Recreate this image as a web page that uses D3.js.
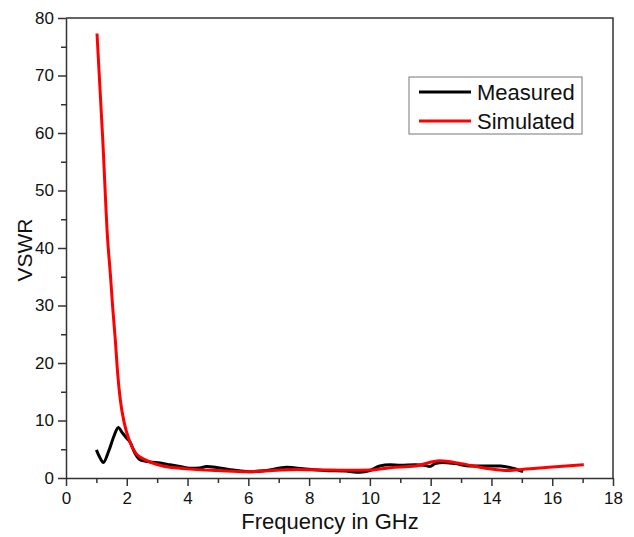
<!DOCTYPE html>
<html>
<head>
<meta charset="utf-8">
<script src="https://cdn.jsdelivr.net/npm/d3@7"></script>
<style>
  body { margin: 0; background: #fff; }
  text { font-family: "Liberation Sans", Arial, sans-serif; fill: #111; }
</style>
</head>
<body>
<div id="chart"></div>
<script>
// measured VSWR (frequency in GHz)
const measFreq = [1.0, 1.12, 1.23, 1.4, 1.58, 1.72, 1.85, 2.0, 2.1, 2.27, 2.43, 2.6, 2.76, 3.1, 3.42, 3.75, 4.08, 4.4, 4.63, 5.0, 5.5, 6.0, 6.6, 7.26, 7.8, 8.5, 9.2, 9.67, 10.0, 10.33, 10.66, 11.0, 11.5, 11.8, 11.97, 12.15, 12.4, 12.8, 13.3, 13.95, 14.3, 14.7, 15.04];
const measVswr = [4.9, 3.5, 2.7, 4.6, 7.3, 8.8, 7.9, 6.9, 6.3, 4.3, 3.2, 2.95, 2.8, 2.6, 2.3, 2.0, 1.7, 1.75, 2.0, 1.8, 1.4, 1.1, 1.3, 1.85, 1.6, 1.3, 1.2, 1.0, 1.3, 2.1, 2.3, 2.2, 2.3, 2.2, 2.0, 2.5, 2.7, 2.5, 2.1, 2.1, 2.1, 1.7, 1.1];

// simulated VSWR
const simFreq = [1.02, 1.21, 1.371, 1.458, 1.535, 1.623, 1.70, 1.787, 1.92, 2.08, 2.30, 2.63, 3.18, 3.75, 4.2, 5.0, 5.94, 6.8, 7.6, 8.5, 9.3, 10.0, 10.66, 11.5, 12.3, 13.0, 13.8, 14.6, 15.0, 16.0, 17.04];
const simVswr = [77.3, 58.8, 41.4, 35.6, 29.8, 24.0, 18.2, 13.6, 9.5, 6.6, 4.3, 3.1, 2.1, 1.7, 1.5, 1.3, 1.1, 1.3, 1.5, 1.4, 1.35, 1.4, 1.8, 2.1, 3.0, 2.5, 1.7, 1.3, 1.5, 1.9, 2.3];

const xTicks = [0, 2, 4, 6, 8, 10, 12, 14, 16, 18];
const yTicks = [0, 10, 20, 30, 40, 50, 60, 70, 80];

const seriesNames = ["Measured", "Simulated"];
const seriesColors = ["#000000", "#ff0000"];

let margin = {top: 18, right: 21, bottom: 59, left: 66},
    width = 634 - margin.left - margin.right,
    height = 537 - margin.top - margin.bottom;

let svg = d3.select("#chart")
  .append("svg")
    .attr("width", 634)
    .attr("height", 537)
  .append("g")
    .attr("transform", "translate(" + margin.left + "," + margin.top + ")");

let x = d3.scaleLinear().domain([0, 18]).range([0, width]);
let y = d3.scaleLinear().domain([0, 80]).range([height, 0]);

// frame (top and right lines, no ticks)
svg.append("path")
  .attr("d", "M0,0H" + width + "V" + height)
  .attr("fill", "none")
  .attr("stroke", "#333")
  .attr("stroke-width", 1.5);

// minor ticks
svg.append("g")
  .attr("transform", "translate(0," + height + ")")
  .call(d3.axisBottom(x).tickValues(d3.range(1, 18, 2)).tickSize(5).tickFormat(""))
  .call(g => g.select(".domain").remove())
  .selectAll("line").attr("stroke", "#333").attr("stroke-width", 1.5);
svg.append("g")
  .call(d3.axisLeft(y).tickValues(d3.range(5, 80, 10)).tickSize(5).tickFormat(""))
  .call(g => g.select(".domain").remove())
  .selectAll("line").attr("stroke", "#333").attr("stroke-width", 1.5);

// major axes
let xAxis = svg.append("g")
  .attr("transform", "translate(0," + height + ")")
  .call(d3.axisBottom(x).tickValues(xTicks).tickSize(8).tickSizeOuter(0).tickPadding(6));
let yAxis = svg.append("g")
  .call(d3.axisLeft(y).tickValues(yTicks).tickSize(8).tickSizeOuter(0).tickPadding(4));
[xAxis, yAxis].forEach(a => {
  a.select(".domain").attr("stroke", "#333").attr("stroke-width", 1.5);
  a.selectAll("line").attr("stroke", "#333").attr("stroke-width", 1.5);
  a.selectAll("text").style("font-size", "17px").style("font-family", "Liberation Sans, Arial, sans-serif").attr("fill", "#111");
});

// axis titles
svg.append("text")
  .attr("x", (240 + 420) / 2 - margin.left)
  .attr("y", height + 51)
  .attr("text-anchor", "middle")
  .style("font-size", "22px")
  .text("Frequency in GHz");
svg.append("text")
  .attr("transform", "translate(" + (-34) + "," + (y(40) + 2) + ") rotate(-90)")
  .attr("text-anchor", "middle")
  .style("font-size", "21px")
  .text("VSWR");

// lines
let line = d3.line()
  .x(d => x(d[0]))
  .y(d => y(d[1]))
  .curve(d3.curveMonotoneX);

let meas = measFreq.map((f, i) => [f, measVswr[i]]);
let sim = simFreq.map((f, i) => [f, simVswr[i]]);

svg.append("path")
  .datum(meas)
  .attr("d", line)
  .attr("fill", "none")
  .attr("stroke", seriesColors[0])
  .attr("stroke-width", 3);
svg.append("path")
  .datum(sim)
  .attr("d", line)
  .attr("fill", "none")
  .attr("stroke", seriesColors[1])
  .attr("stroke-width", 3);

// legend
let legend = svg.append("g")
  .attr("transform", "translate(" + (409 - margin.left) + "," + (77 - margin.top) + ")");
legend.append("rect")
  .attr("width", 173)
  .attr("height", 57)
  .attr("fill", "#fff")
  .attr("stroke", "#777")
  .attr("stroke-width", 1);
seriesNames.forEach((name, i) => {
  let ly = 15 + i * 29;
  legend.append("line")
    .attr("x1", 10).attr("x2", 62)
    .attr("y1", ly).attr("y2", ly)
    .attr("stroke", seriesColors[i])
    .attr("stroke-width", 3);
  legend.append("text")
    .attr("x", 68)
    .attr("y", ly + 8)
    .style("font-size", "22px")
    .text(name);
});
</script>
</body>
</html>
